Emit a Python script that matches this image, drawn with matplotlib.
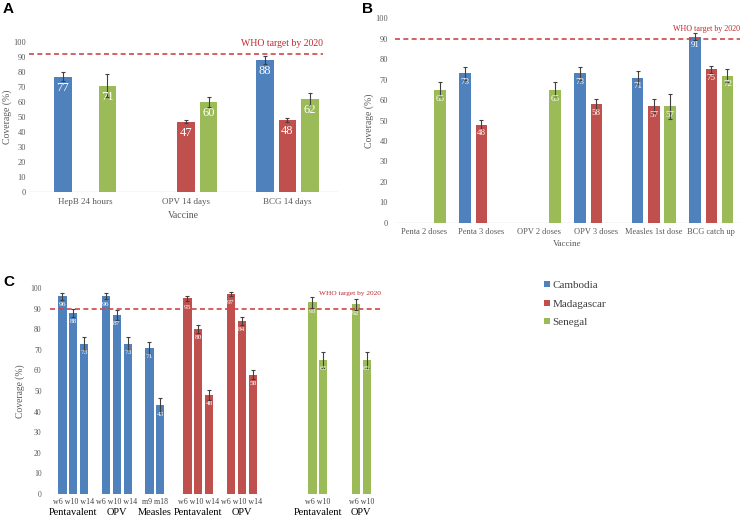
import numpy as np
import matplotlib
matplotlib.use("Agg")
import matplotlib.pyplot as plt
from matplotlib.patches import Patch

plt.rcParams['font.family'] = ['Liberation Serif', 'DejaVu Serif']

nan = np.nan
countries = ['Cambodia', 'Madagascar', 'Senegal']
colors = ['#4F81BD', '#C0504D', '#9BBB59']
grey = '#595959'
target_col = '#D0474A'

# panel A
a_vaccines = ['HepB 24 hours', 'OPV 14 days', 'BCG 14 days']
a_cam = [77, nan, 88]
a_cam_err = [3.3, nan, 2.4]
a_mad = [nan, 47, 48]
a_mad_err = [nan, 1.3, 1.6]
a_sen = [71, 60, 62]
a_sen_err = [7.9, 3.6, 4.0]
a_target = 92

# panel B
b_vaccines = ['Penta 2 doses', 'Penta 3 doses', 'OPV 2 doses', 'OPV 3 doses',
              'Measles 1st dose', 'BCG catch up']
b_cam = [nan, 73, nan, 73, 71, 91]
b_cam_err = [nan, 3.0, nan, 3.0, 3.0, 1.7]
b_mad = [nan, 48, nan, 58, 57, 75]
b_mad_err = [nan, 2.2, nan, 2.4, 3.4, 1.7]
b_sen = [65, nan, 65, nan, 57, 72]
b_sen_err = [3.7, nan, 3.7, nan, 6.1, 3.0]
b_target = 90

# panel C (country -> vaccine groups -> doses)
c_groups = ['Pentavalent', 'OPV', 'Measles']
c_doses = [['w6', 'w10', 'w14'], ['w6', 'w10', 'w14'], ['m9', 'm18']]
c_cam = [[96, 88, 73], [96, 87, 73], [71, 43]]
c_cam_err = [[1.7, 2.0, 3.3], [1.5, 2.5, 3.3], [3.0, 3.8]]
c_mad = [[95, 80, 48], [97, 84, 58], []]
c_mad_err = [[1.3, 2.0, 2.4], [1.0, 2.0, 2.4], []]
c_sen = [[93, 65], [92, 65], []]
c_sen_err = [[2.5, 4.0], [2.5, 4.0], []]
c_target = 90

W, H = 745, 522
fig = plt.figure(figsize=(W / 100, H / 100), dpi=100)


def px_axes(x0, x1, ytop, ybot):
    return fig.add_axes([x0 / W, 1 - ybot / H, (x1 - x0) / W, (ybot - ytop) / H])


def clean(ax, tick_size):
    for s in ax.spines.values():
        s.set_visible(False)
    ax.tick_params(length=0, labelsize=tick_size, labelcolor=grey)
    ax.set_ylim(0, 100)
    ax.set_yticks(range(0, 101, 10))


def bars(ax, x, vals, errs, color, width, lab_size, lab_off):
    ax.bar(x, vals, width, color=color, zorder=2)
    ax.errorbar(x, vals, yerr=errs, fmt='none', ecolor='#404040',
                elinewidth=0.8, capsize=1.5, capthick=0.8, zorder=3)
    for xi, v in zip(x, vals):
        if not np.isnan(v):
            ax.annotate(f'{v:g}', (xi, v), xytext=(0, lab_off),
                        textcoords='offset points', ha='center', va='center',
                        color='white', fontsize=lab_size, zorder=4)


# ---- A ----
axA = px_axes(29, 338, 42, 192)
clean(axA, 6)
xa = np.arange(len(a_vaccines))
for k, (v, e) in enumerate([(a_cam, a_cam_err), (a_mad, a_mad_err), (a_sen, a_sen_err)]):
    bars(axA, xa + (k - 1) * 0.22, np.array(v, float), np.array(e, float),
         colors[k], 0.175, 9, -8)
axA.set_xlim(-0.555, 2.5)
axA.set_xticks(xa)
axA.set_xticklabels(a_vaccines, fontsize=6.5)
axA.tick_params(axis='x', pad=4)
axA.tick_params(axis='y', pad=2)
axA.axhline(0, color='#D9D9D9', lw=1, zorder=1)
axA.axhline(a_target, xmax=0.95, color=target_col, ls=(0, (3, 2)), lw=1.2)
axA.text(0.95, 0.993, 'WHO target by 2020', transform=axA.transAxes,
         ha='right', va='center', color='#C0282D', fontsize=7)
axA.set_xlabel('Vaccine', fontsize=7, color=grey, labelpad=4)
axA.set_ylabel('Coverage (%)', fontsize=7, color=grey)
axA.yaxis.set_label_coords(-0.056, 0.5)

# ---- B ----
axB = px_axes(395, 740, 18.3, 222.7)
clean(axB, 6)
xb = np.arange(len(b_vaccines))
for k, (v, e) in enumerate([(b_cam, b_cam_err), (b_mad, b_mad_err), (b_sen, b_sen_err)]):
    bars(axB, xb + (k - 1) * 0.28, np.array(v, float), np.array(e, float),
         colors[k], 0.2, 6.5, -6.3)
axB.set_xlim(-0.5, 5.5)
axB.set_xticks(xb)
axB.set_xticklabels(b_vaccines, fontsize=6)
axB.tick_params(axis='x', pad=4)
axB.tick_params(axis='y', pad=5)
axB.axhline(0, color='#D9D9D9', lw=1, zorder=1)
axB.axhline(b_target, color=target_col, ls=(0, (3, 2)), lw=1.2)
axB.text(1.0, 0.946, 'WHO target by 2020', transform=axB.transAxes,
         ha='right', va='center', color='#C0282D', fontsize=5.8)
axB.set_xlabel('Vaccine', fontsize=6.5, color=grey, labelpad=3)
axB.set_ylabel('Coverage (%)', fontsize=7, color=grey)
axB.yaxis.set_label_coords(-0.062, 0.5)

# ---- C ----
axC = px_axes(50, 382, 288, 494)
clean(axC, 5.5)
country_step, group_step = 11.5, 4
sub_pos, sub_lab = [], []
for ci, (vals, errs) in enumerate([(c_cam, c_cam_err), (c_mad, c_mad_err), (c_sen, c_sen_err)]):
    for gi, (gv, ge) in enumerate(zip(vals, errs)):
        if not gv:
            continue
        x = ci * country_step + gi * group_step + np.arange(len(gv))
        bars(axC, x, np.array(gv, float), np.array(ge, float),
             colors[ci], 0.75, 5.3, -6.3)
        sub_pos.append(x.mean())
        sub_lab.append(' '.join(c_doses[gi][:len(gv)]))
        axC.text(x.mean(), -0.089, c_groups[gi], transform=axC.get_xaxis_transform(),
                 ha='center', va='center', fontsize=7.5, color='black')
axC.set_xlim(-1.15, 29.4)
axC.set_xticks(sub_pos)
axC.set_xticklabels(sub_lab, fontsize=5.7, color='#404040')
axC.tick_params(axis='x', pad=3)
axC.tick_params(axis='y', pad=6)
axC.axhline(c_target, color=target_col, ls=(0, (3, 2)), lw=1.2)
axC.text(0.997, 0.974, 'WHO target by 2020', transform=axC.transAxes,
         ha='right', va='center', color='#C0282D', fontsize=5.3)
axC.set_ylabel('Coverage (%)', fontsize=6.9, color=grey)
axC.yaxis.set_label_coords(-0.075, 0.5)

# legend
handles = [Patch(facecolor=c, edgecolor='none') for c in colors]
fig.legend(handles, countries, loc='upper left', bbox_to_anchor=(544 / W, 1 - 281 / H),
           frameon=False, fontsize=8, handlelength=0.5, handleheight=0.5,
           handletextpad=0.25, labelspacing=0.85, borderpad=0, borderaxespad=0,
           labelcolor='#404040')

for lab, x, y in [('A', 3, 9), ('B', 362, 9), ('C', 3, 282)]:
    fig.text(x / W, 1 - y / H, lab, fontfamily='Liberation Sans', fontweight='bold',
             fontsize=11, va='center', ha='left')

fig.savefig('out.png', dpi=100)
